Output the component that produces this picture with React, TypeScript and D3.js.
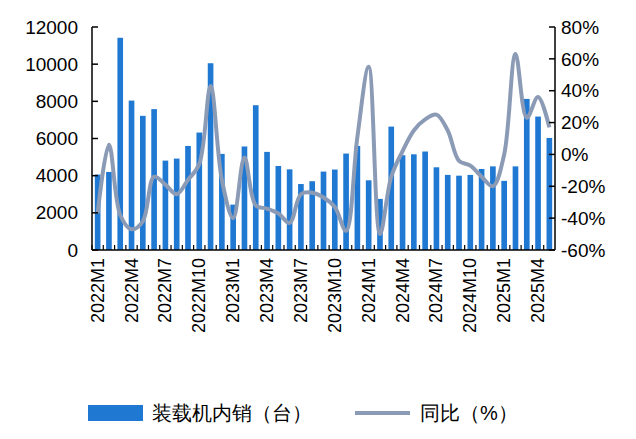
import React from "react";
import * as d3 from "d3";

const months: string[] = [];
for (let y = 2022; y <= 2025; y++) for (let m = 1; m <= 12; m++) months.push(`${y}M${m}`);
const categories = months.slice(0, 41);
const sales = [4060, 4200, 11420, 8040, 7220, 7580, 4810, 4920, 5600, 6320, 10050, 5170, 2440, 5570, 7790, 5280, 4520, 4340, 3550, 3700,
  4220, 4330, 5190, 5600, 3750, 2750, 6640, 5100, 5150, 5300, 4450, 4040, 4000, 4040, 4360, 4500, 3720, 4500, 8130, 7180, 6030];
const yoy = [-37, 6, -38, -47, -42, -14, -19, -25, -16, -6, 43, -16, -40, -2, -32, -34, -37, -43, -25, -24,
  -27, -33, -48, 11, 55, -50, -14, 2, 15, 22, 25, 15, -4, -7, -14, -20, 0, 63, 23, 36, 17];
const leftTicks = [0, 2000, 4000, 6000, 8000, 10000, 12000];
const rightTicks = [-60, -40, -20, 0, 20, 40, 60, 80];

export default function App() {
  const W = 636, H = 439;
  const L = 92, R = 555, T = 27, B = 250;
  const x = d3.scaleBand<string>().domain(categories).range([L, R]).paddingInner(0.5).paddingOuter(0.25);
  const yl = d3.scaleLinear().domain([0, 12000]).range([B, T]);
  const yr = d3.scaleLinear().domain([-60, 80]).range([B, T]);
  const cx = (i: number) => (x(categories[i]) as number) + x.bandwidth() / 2;
  const line = d3.line<number>().x((_, i) => cx(i)).y(d => yr(d)).curve(d3.curveCatmullRom.alpha(0.5));
  const step = x.step();
  const font = "Arial, 'Liberation Sans', sans-serif";
  return (
    <svg width={W} height={H} style={{ position: "absolute", left: 0, top: 0, background: "#fff" }} fontFamily={font}>
      {sales.map((v, i) => (
        <rect key={i} x={x(categories[i])} y={yl(v)} width={x.bandwidth()} height={B - yl(v)} fill="#1F78D1" />
      ))}
      <path d={line(yoy) || ""} fill="none" stroke="#8C9BB5" strokeWidth={4} strokeLinejoin="round" />
      <line x1={L} x2={L} y1={T} y2={B} stroke="#000" strokeWidth={1.5} />
      <line x1={R} x2={R} y1={T} y2={B} stroke="#000" strokeWidth={1.5} />
      <line x1={L} x2={R} y1={B} y2={B} stroke="#000" strokeWidth={1.5} />
      {leftTicks.map(t => (
        <g key={t}>
          <line x1={L} x2={L + 6} y1={yl(t)} y2={yl(t)} stroke="#000" strokeWidth={1.5} />
          <text x={L - 14} y={yl(t)} dy="0.35em" textAnchor="end" fontSize={19}>{t}</text>
        </g>
      ))}
      {rightTicks.map(t => (
        <g key={t}>
          <line x1={R - 6} x2={R} y1={yr(t)} y2={yr(t)} stroke="#000" strokeWidth={1.5} />
          <text x={R + 6} y={yr(t)} dy="0.35em" textAnchor="start" fontSize={19}>{t}%</text>
        </g>
      ))}
      {categories.map((c) => {
        const tx = (x(c) as number) - step * 0.25;
        return <line key={c} x1={tx} x2={tx} y1={B} y2={B - 5} stroke="#000" strokeWidth={1.2} />;
      })}
      {categories.map((c, i) => i % 3 === 0 ? (
        <text key={c} transform={`translate(${cx(i) + 6},${B + 8}) rotate(-90)`} textAnchor="end" fontSize={18}>{c}</text>
      ) : null)}
      <rect x={88} y={405} width={55} height={16} fill="#1F78D1" />
      <text x={152} y={413} dy="0.35em" fontSize={20}>装载机内销（台）</text>
      <line x1={355} x2={410} y1={413} y2={413} stroke="#8C9BB5" strokeWidth={4} />
      <text x={420} y={413} dy="0.35em" fontSize={20}>同比（%）</text>
    </svg>
  );
}
